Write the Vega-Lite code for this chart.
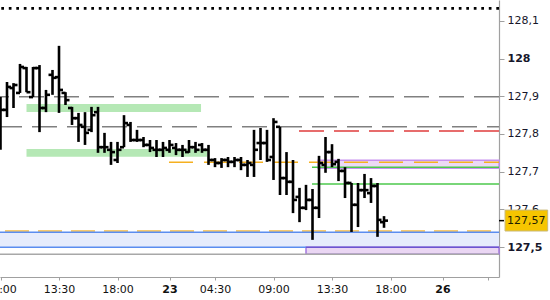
{
  "$schema": "https://vega.github.io/schema/vega-lite/v6.json",
  "autosize": {"type": "none"},
  "padding": {"left": 0, "top": 0, "right": 51, "bottom": 23},
  "width": 499,
  "height": 277,
  "background": "white",
  "config": {"view": {"stroke": null}},
  "datasets": {
    "ohlc": [
      {"k":0,"o":127.784,"h":127.898,"l":127.758,"c":127.864},
      {"k":1,"o":127.864,"h":127.938,"l":127.845,"c":127.925},
      {"k":2,"o":127.922,"h":127.935,"l":127.869,"c":127.930},
      {"k":3,"o":127.909,"h":127.986,"l":127.909,"c":127.978},
      {"k":4,"o":127.975,"h":127.978,"l":127.911,"c":127.911},
      {"k":5,"o":127.898,"h":127.978,"l":127.898,"c":127.975},
      {"k":6,"o":127.975,"h":127.983,"l":127.805,"c":127.869},
      {"k":7,"o":127.869,"h":127.917,"l":127.858,"c":127.904},
      {"k":8,"o":127.957,"h":127.970,"l":127.904,"c":127.949},
      {"k":9,"o":127.951,"h":128.034,"l":127.856,"c":127.917},
      {"k":10,"o":127.909,"h":127.911,"l":127.877,"c":127.890},
      {"k":11,"o":127.869,"h":127.872,"l":127.824,"c":127.842},
      {"k":12,"o":127.842,"h":127.856,"l":127.779,"c":127.824},
      {"k":13,"o":127.819,"h":127.858,"l":127.771,"c":127.803},
      {"k":14,"o":127.811,"h":127.872,"l":127.805,"c":127.850},
      {"k":15,"o":127.858,"h":127.872,"l":127.750,"c":127.765},
      {"k":16,"o":127.765,"h":127.803,"l":127.750,"c":127.765},
      {"k":17,"o":127.758,"h":127.779,"l":127.718,"c":127.752},
      {"k":18,"o":127.731,"h":127.779,"l":127.723,"c":127.758},
      {"k":19,"o":127.765,"h":127.850,"l":127.765,"c":127.829},
      {"k":20,"o":127.824,"h":127.832,"l":127.779,"c":127.784},
      {"k":21,"o":127.784,"h":127.811,"l":127.779,"c":127.784},
      {"k":22,"o":127.784,"h":127.792,"l":127.765,"c":127.771},
      {"k":23,"o":127.771,"h":127.784,"l":127.752,"c":127.763},
      {"k":24,"o":127.758,"h":127.784,"l":127.739,"c":127.758},
      {"k":25,"o":127.758,"h":127.779,"l":127.739,"c":127.763},
      {"k":26,"o":127.758,"h":127.784,"l":127.750,"c":127.771},
      {"k":27,"o":127.763,"h":127.776,"l":127.744,"c":127.758},
      {"k":28,"o":127.758,"h":127.771,"l":127.739,"c":127.758},
      {"k":29,"o":127.752,"h":127.784,"l":127.750,"c":127.765},
      {"k":30,"o":127.765,"h":127.779,"l":127.750,"c":127.758},
      {"k":31,"o":127.771,"h":127.776,"l":127.750,"c":127.758},
      {"k":32,"o":127.758,"h":127.771,"l":127.718,"c":127.731},
      {"k":33,"o":127.731,"h":127.736,"l":127.712,"c":127.723},
      {"k":34,"o":127.723,"h":127.736,"l":127.710,"c":127.731},
      {"k":35,"o":127.731,"h":127.739,"l":127.712,"c":127.726},
      {"k":36,"o":127.726,"h":127.739,"l":127.712,"c":127.731},
      {"k":37,"o":127.731,"h":127.739,"l":127.704,"c":127.718},
      {"k":38,"o":127.718,"h":127.731,"l":127.686,"c":127.723},
      {"k":39,"o":127.718,"h":127.811,"l":127.686,"c":127.758},
      {"k":40,"o":127.776,"h":127.816,"l":127.731,"c":127.776},
      {"k":41,"o":127.776,"h":127.811,"l":127.726,"c":127.731},
      {"k":42,"o":127.739,"h":127.842,"l":127.678,"c":127.832},
      {"k":43,"o":127.819,"h":127.819,"l":127.638,"c":127.683},
      {"k":44,"o":127.683,"h":127.752,"l":127.638,"c":127.673},
      {"k":45,"o":127.673,"h":127.731,"l":127.590,"c":127.625},
      {"k":46,"o":127.633,"h":127.657,"l":127.566,"c":127.604},
      {"k":47,"o":127.604,"h":127.665,"l":127.598,"c":127.625},
      {"k":48,"o":127.625,"h":127.654,"l":127.519,"c":127.604},
      {"k":49,"o":127.604,"h":127.742,"l":127.577,"c":127.723},
      {"k":50,"o":127.718,"h":127.792,"l":127.697,"c":127.752},
      {"k":51,"o":127.752,"h":127.773,"l":127.712,"c":127.720},
      {"k":52,"o":127.726,"h":127.734,"l":127.675,"c":127.702},
      {"k":53,"o":127.702,"h":127.712,"l":127.630,"c":127.670},
      {"k":54,"o":127.670,"h":127.670,"l":127.540,"c":127.612},
      {"k":55,"o":127.612,"h":127.670,"l":127.553,"c":127.651},
      {"k":56,"o":127.651,"h":127.694,"l":127.630,"c":127.651},
      {"k":57,"o":127.643,"h":127.683,"l":127.617,"c":127.662},
      {"k":58,"o":127.662,"h":127.670,"l":127.527,"c":127.572},
      {"k":59,"o":127.566,"h":127.582,"l":127.551,"c":127.570}
    ]
  },
  "layer": [
    {
      "data": {"values": [{"from": -0.077, "to": 76.69, "top": 127.5394, "bottom": 127.4997}]},
      "mark": {"type": "rect", "fill": "#e6ecfc"},
      "encoding": {
        "x": {"field": "from", "type": "quantitative", "title": null, "scale": {"domain": [-0.077, 76.69], "nice": false, "zero": false},
          "axis": {
            "orient": "bottom", "title": null, "grid": false,
            "values": [0, 9, 18, 26, 33, 42, 51, 60, 68, 75],
            "labelExpr": "['09:00','13:30','18:00','23','04:30','09:00','13:30','18:00','26',''][indexof([0,9,18,26,33,42,51,60,68,75], datum.value)]",
            "labelFontWeight": {"condition": {"test": "datum.value == 26 || datum.value == 68", "value": "bold"}, "value": "normal"},
            "labelFont": "DejaVu Sans", "labelFontSize": 11, "labelColor": "#111111",
            "labelFlush": false, "labelOverlap": false, "labelPadding": 3,
            "tickSize": 3, "tickColor": "#a0a0a0", "domainColor": "#a0a0a0", "domainWidth": 1.2
          }},
        "x2": {"field": "to"},
        "y": {"field": "top", "type": "quantitative", "title": null, "scale": {"domain": [127.4204, 128.1557], "nice": false, "zero": false},
          "axis": {
            "orient": "right", "title": null, "grid": false,
            "values": [127.5, 127.6, 127.7, 127.8, 127.9, 128, 128.1],
            "labelExpr": "replace(format(datum.value, '.1~f'), '.', ',')",
            "labelFontWeight": {"condition": {"test": "datum.value == 128 || datum.value == 127.5", "value": "bold"}, "value": "normal"},
            "labelFont": "DejaVu Sans", "labelFontSize": 11, "labelColor": "#16162a",
            "labelFlush": false, "labelOverlap": false, "labelPadding": 3,
            "tickSize": 5, "tickColor": "#a0a0a0", "domainColor": "#a0a0a0", "domainWidth": 1.2
          }},
        "y2": {"field": "bottom"}
      }
    },
    {
      "data": {"values": [{"from": 47.0, "to": 76.69, "top": 127.4997, "bottom": 127.4806}]},
      "mark": {"type": "rect", "fill": "#ead6f3", "stroke": "#a478e0", "strokeWidth": 1.5},
      "encoding": {
        "x": {"field": "from", "type": "quantitative", "title": null},
        "x2": {"field": "to"},
        "y": {"field": "top", "type": "quantitative", "title": null},
        "y2": {"field": "bottom"}
      }
    },
    {
      "data": {"values": [{"from": 48.85, "to": 76.69, "top": 127.7305, "bottom": 127.7093}]},
      "mark": {"type": "rect", "fill": "#ecd9f5", "stroke": "#c890f0", "strokeWidth": 1.5},
      "encoding": {
        "x": {"field": "from", "type": "quantitative", "title": null},
        "x2": {"field": "to"},
        "y": {"field": "top", "type": "quantitative", "title": null},
        "y2": {"field": "bottom"}
      }
    },
    {
      "data": {"values": [
        {"from": 4.0, "to": 30.85, "top": 127.8796, "bottom": 127.8584},
        {"from": 4.0, "to": 31.77, "top": 127.7602, "bottom": 127.7398}
      ]},
      "mark": {"type": "rect", "fill": "#b5e8b5"},
      "encoding": {
        "x": {"field": "from", "type": "quantitative", "title": null},
        "x2": {"field": "to"},
        "y": {"field": "top", "type": "quantitative", "title": null},
        "y2": {"field": "bottom"}
      }
    },
    {
      "data": {"values": [{"p": 127.899}]},
      "mark": {"type": "rule", "stroke": "#808080", "strokeWidth": 1.5, "strokeDash": [25, 10]},
      "encoding": {"y": {"field": "p", "type": "quantitative", "title": null}}
    },
    {
      "data": {"values": [{"p": 127.8194}]},
      "mark": {"type": "rule", "stroke": "#808080", "strokeWidth": 1.5, "strokeDash": [25, 10], "strokeDashOffset": 13},
      "encoding": {"y": {"field": "p", "type": "quantitative", "title": null}}
    },
    {
      "data": {"values": [{"p": 128.1337}]},
      "mark": {"type": "rule", "stroke": "#000000", "strokeWidth": 2.7, "strokeDash": [2.7, 4.8]},
      "encoding": {"y": {"field": "p", "type": "quantitative", "title": null}}
    },
    {
      "data": {"values": [{"p": 127.808, "from": 45.92, "to": 76.69}]},
      "mark": {"type": "rule", "stroke": "#e03c3c", "strokeWidth": 1.5, "strokeDash": [25, 10]},
      "encoding": {
        "x": {"field": "from", "type": "quantitative", "title": null},
        "x2": {"field": "to"},
        "y": {"field": "p", "type": "quantitative", "title": null}
      }
    },
    {
      "data": {"values": [{"p": 127.7249, "from": 25.92, "to": 76.69}]},
      "mark": {"type": "rule", "stroke": "#f5b020", "strokeWidth": 1.5, "strokeDash": [24, 11]},
      "encoding": {
        "x": {"field": "from", "type": "quantitative", "title": null},
        "x2": {"field": "to"},
        "y": {"field": "p", "type": "quantitative", "title": null}
      }
    },
    {
      "data": {"values": [{"p": 127.7116, "from": 47.92, "to": 76.69}, {"p": 127.667, "from": 47.92, "to": 76.69}]},
      "mark": {"type": "rule", "stroke": "#4cc84c", "strokeWidth": 1.5},
      "encoding": {
        "x": {"field": "from", "type": "quantitative", "title": null},
        "x2": {"field": "to"},
        "y": {"field": "p", "type": "quantitative", "title": null}
      }
    },
    {
      "data": {"values": [{"p": 127.5425}]},
      "mark": {"type": "rule", "stroke": "#f5b942", "strokeWidth": 1.5, "strokeDash": [24, 9], "strokeDashOffset": -8},
      "encoding": {"y": {"field": "p", "type": "quantitative", "title": null}}
    },
    {
      "data": {"values": [{"p": 127.5394, "from": -0.077, "to": 76.69}, {"p": 127.4997, "from": -0.077, "to": 47.0}]},
      "mark": {"type": "rule", "stroke": "#5b8def", "strokeWidth": 1.5},
      "encoding": {
        "x": {"field": "from", "type": "quantitative", "title": null},
        "x2": {"field": "to"},
        "y": {"field": "p", "type": "quantitative", "title": null}
      }
    },
    {
      "data": {"values": [{"p": 127.4997, "from": 47.0, "to": 76.69}]},
      "mark": {"type": "rule", "stroke": "#6b55d0", "strokeWidth": 1.5},
      "encoding": {
        "x": {"field": "from", "type": "quantitative", "title": null},
        "x2": {"field": "to"},
        "y": {"field": "p", "type": "quantitative", "title": null}
      }
    },
    {
      "data": {"values": [{"p": 127.4806}]},
      "mark": {"type": "rule", "stroke": "#a8a8a8", "strokeWidth": 1.5},
      "encoding": {"y": {"field": "p", "type": "quantitative", "title": null}}
    },
    {
      "data": {"name": "ohlc"},
      "mark": {"type": "rule", "stroke": "#000000", "strokeWidth": 2.6},
      "encoding": {
        "x": {"field": "k", "type": "quantitative", "title": null},
        "y": {"field": "l", "type": "quantitative", "title": null},
        "y2": {"field": "h"}
      }
    },
    {
      "data": {"name": "ohlc"},
      "mark": {"type": "rule", "stroke": "#000000", "strokeWidth": 2.6, "xOffset": -4, "x2Offset": 0},
      "encoding": {
        "x": {"field": "k", "type": "quantitative", "title": null},
        "x2": {"field": "k"},
        "y": {"field": "o", "type": "quantitative", "title": null}
      }
    },
    {
      "data": {"name": "ohlc"},
      "mark": {"type": "rule", "stroke": "#000000", "strokeWidth": 2.6, "xOffset": 0, "x2Offset": 4},
      "encoding": {
        "x": {"field": "k", "type": "quantitative", "title": null},
        "x2": {"field": "k"},
        "y": {"field": "c", "type": "quantitative", "title": null}
      }
    },
    {
      "data": {"values": [{"p": 127.57, "from": 76.69, "to": 77.46}]},
      "mark": {"type": "rule", "stroke": "#000000", "strokeWidth": 1.5},
      "encoding": {
        "x": {"field": "from", "type": "quantitative", "title": null},
        "x2": {"field": "to"},
        "y": {"field": "p", "type": "quantitative", "title": null}
      }
    },
    {
      "data": {"values": [{"from": 77.62, "to": 84.18, "top": 127.598, "bottom": 127.5425}]},
      "mark": {"type": "rect", "fill": "#f6c500", "stroke": "#c8b878", "strokeWidth": 1},
      "encoding": {
        "x": {"field": "from", "type": "quantitative", "title": null},
        "x2": {"field": "to"},
        "y": {"field": "top", "type": "quantitative", "title": null},
        "y2": {"field": "bottom"}
      }
    },
    {
      "data": {"values": [{"k": 80.9, "p": 127.57, "label": "127,57"}]},
      "mark": {"type": "text", "font": "DejaVu Sans", "fontSize": 11, "color": "#1e1e00", "align": "center", "baseline": "middle"},
      "encoding": {
        "x": {"field": "k", "type": "quantitative", "title": null},
        "y": {"field": "p", "type": "quantitative", "title": null},
        "text": {"field": "label"}
      }
    }
  ]
}
